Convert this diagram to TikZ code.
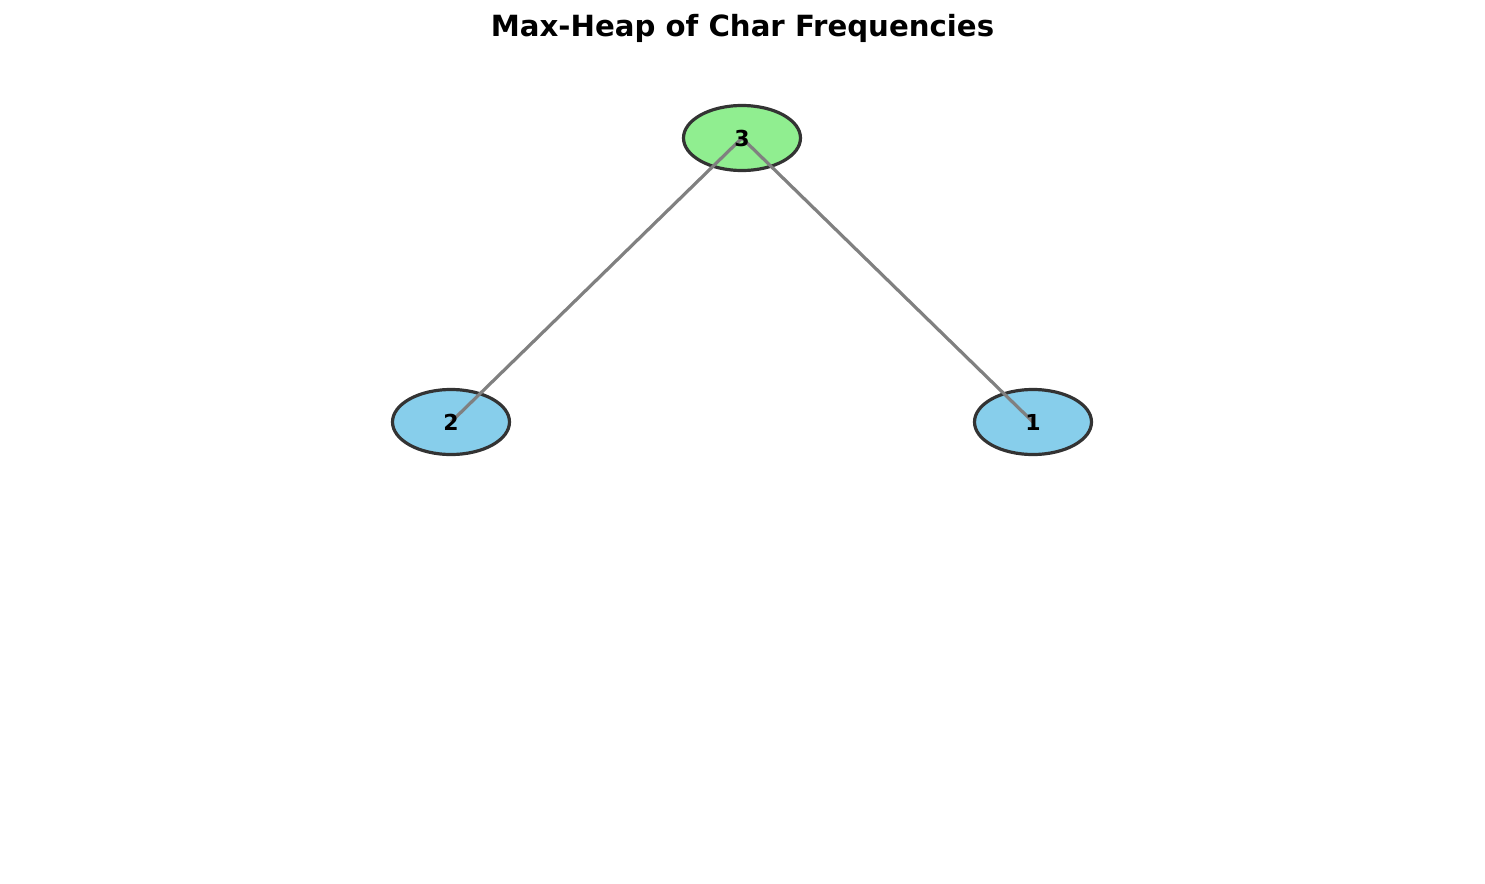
\documentclass[tikz,border=0pt]{standalone}
\usepackage{fontspec}
\setmainfont{DejaVu Sans}
\usetikzlibrary{shapes.geometric}
\definecolor{rootfill}{HTML}{90EE90}
\definecolor{leaffill}{HTML}{87CEEB}
\definecolor{outline}{HTML}{333333}
\definecolor{edgecol}{HTML}{808080}
\tikzset{
  heapnode/.style={ellipse, draw=outline, line width=1.6pt, minimum width=58.5pt, minimum height=32.5pt, inner sep=0pt},
  heapedge/.style={draw=edgecol, line width=1.6pt},
  heaplabel/.style={font=\bfseries\fontsize{11}{13}\selectfont, text=black, inner sep=0pt},
}
\begin{document}
\begin{tikzpicture}[x=0.5pt, y=-0.5pt]
\useasboundingbox (0,0) rectangle (1485,884);
\node[font=\bfseries\fontsize{14.6}{17}\selectfont] (title) at (742.5,28) {Max-Heap of Char Frequencies};
\node[heapnode, fill=rootfill] (n3) at (742,138) {};
\node[heapnode, fill=leaffill] (n2) at (451,422) {};
\node[heapnode, fill=leaffill] (n1) at (1033,422) {};
\draw[heapedge] (n3.center) -- (n2.center);
\draw[heapedge] (n3.center) -- (n1.center);
\node[heaplabel] (t3) at (n3.center) {3};
\node[heaplabel] (t2) at (n2.center) {2};
\node[heaplabel] (t1) at (n1.center) {1};
\end{tikzpicture}
\end{document}
